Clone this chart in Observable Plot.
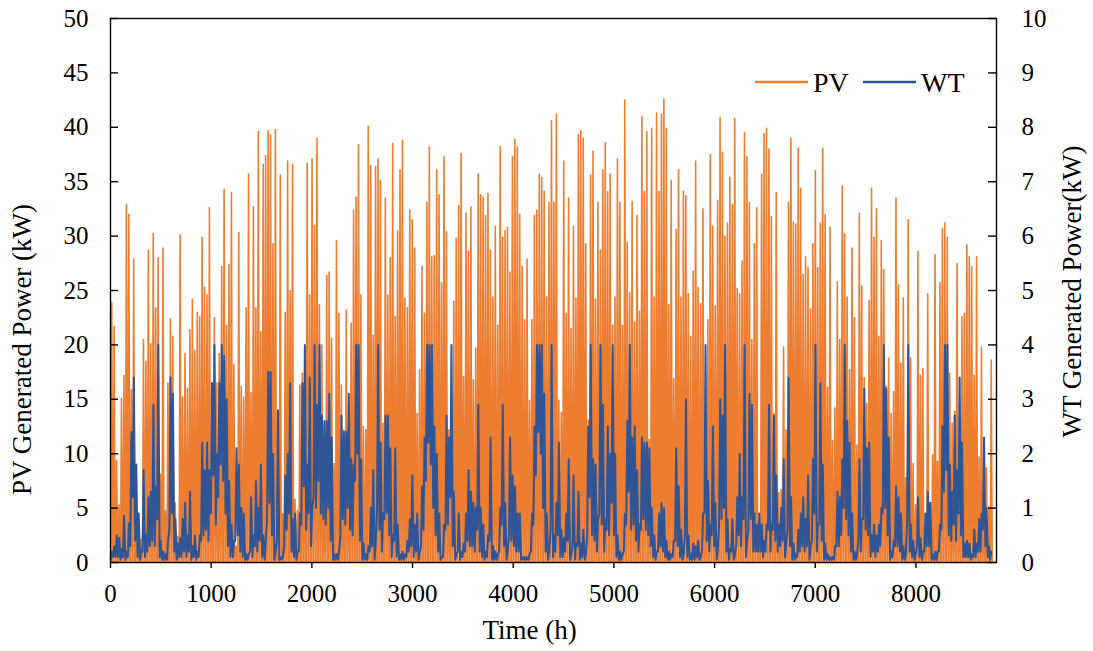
<!DOCTYPE html>
<html>
<head>
<meta charset="utf-8">
<script src="https://cdn.jsdelivr.net/npm/d3@7"></script>
<script src="https://cdn.jsdelivr.net/npm/@observablehq/plot@0.6"></script>
<style>
  html, body { margin: 0; padding: 0; background: #fff; }
  svg { display: block; }
</style>
</head>
<body>
<div id="chart"></div>
<script>
// ---- Data ----
// Daily peak of PV generated power (kW), one value per day across the year
const pvDailyPeak = [
  23.9,21.7,9.4,5.3,15.1,17.2,32.9,32.0,15.9,27.9,8.5,3.9,2.1,20.5,18.5,28.7,20.1,30.2,23.4,28.0,8.1,28.9,4.8,16.5,22.4,20.8,5.5,2.4,30.1,15.2,19.2,16.0,21.4,24.2,19.5,23.0,22.6,29.9,25.3,24.6,32.6,10.0,22.5,16.5,
  19.2,27.2,34.3,21.8,27.4,34.0,18.2,1.5,30.3,16.2,15.2,23.4,35.7,15.6,32.7,23.4,39.6,21.2,36.6,37.4,39.7,39.3,29.3,39.8,3.9,35.6,4.5,23.0,36.9,25.0,36.6,5.8,4.8,16.3,17.4,16.2,36.7,24.6,37.1,31.0,39.0,23.7,20.0,9.9,
  26.4,26.7,20.6,9.1,29.6,22.9,16.3,12.2,23.2,14.5,22.0,32.4,33.6,38.4,24.6,12.5,12.2,40.1,36.5,20.9,36.4,37.1,35.1,12.8,33.5,24.6,28.0,38.5,22.6,30.5,36.1,38.8,24.3,23.4,32.4,31.5,28.9,13.7,17.7,27.2,22.9,33.1,38.2,28.1,
  28.2,36.1,33.8,25.7,37.3,30.4,12.2,11.5,24.0,29.8,32.8,37.6,17.1,32.1,28.6,32.7,16.8,19.7,35.7,33.8,33.6,31.9,33.9,28.7,24.4,30.9,21.8,38.2,29.9,30.5,30.8,26.7,37.3,38.9,38.2,32.0,27.2,22.3,27.9,14.9,22.3,31.9,32.4,35.7,35.4,
  34.1,24.4,33.1,40.6,33.1,41.2,14.9,13.8,36.9,22.9,33.5,21.5,30.9,24.3,39.3,39.7,39.0,29.3,13.1,35.6,37.8,24.2,33.1,28.7,36.1,38.6,34.1,35.7,21.8,24.4,37.1,33.1,21.8,42.5,29.4,24.8,33.2,22.1,31.9,23.1,41.0,34.1,39.6,11.3,39.9,
  24.4,41.3,34.1,41.2,42.6,39.9,23.7,35.1,16.9,30.6,36.1,24.4,34.1,33.7,24.7,20.8,26.8,36.9,25.3,23.8,32.5,5.5,22.3,37.5,30.9,23.6,33.3,40.9,37.7,30.0,31.2,35.4,32.9,40.8,25.2,24.7,27.7,39.5,37.3,33.1,20.5,29.3,32.6,3.6,35.7,39.4,
  39.9,38.0,31.8,13.7,34.0,6.4,6.7,19.8,12.2,33.1,39.0,31.3,31.1,38.1,34.4,26.5,28.1,27.1,23.3,29.3,36.0,27.1,31.2,38.1,32.0,16.1,30.8,11.2,14.2,25.8,20.5,34.6,30.2,24.4,17.7,28.9,22.5,10.8,32.1,25.4,17.0,14.6,24.1,34.4,29.9,32.5,
  20.8,29.6,26.9,16.2,18.8,13.7,15.7,33.5,25.5,18.3,24.3,7.8,31.5,18.8,9.1,5.3,28.6,17.2,17.8,3.0,24.7,5.5,9.9,28.3,9.3,25.7,30.7,31.2,29.9,17.4,12.8,13.9,27.5,8.8,22.6,22.9,29.2,28.1,27.2,17.2,28.1,9.7,19.8,8.2,8.7,5.1,18.6
];
// Daily high of WT generated power (kW)
const wtDailyHigh = [
  0.2,0.3,0.5,0.45,0.25,0.86,0.2,0.72,2.4,3.4,1.8,0.9,0.23,1.7,0.5,1.2,1.3,2.9,1.4,4.0,0.4,0.2,0.15,0.4,3.4,3.1,0.8,0.35,0.45,0.8,1.1,0.5,1.3,0.3,0.5,0.2,0.5,2.2,1.7,2.2,1.7,3.3,4.0,2.0,
  3.3,4.0,3.8,3.0,1.5,0.7,0.4,2.1,1.8,1.0,0.9,0.15,0.15,1.2,0.5,1.5,1.0,1.8,0.5,0.4,3.5,3.5,2.0,0.2,2.8,0.1,0.1,1.6,2.0,3.3,0.8,0.9,0.2,0.9,3.3,4.0,1.8,3.4,1.0,4.0,2.9,4.0,2.7,2.6,
  2.6,3.1,2.3,0.15,0.15,0.2,2.7,2.4,2.4,3.1,1.9,1.8,4.0,4.0,1.9,0.35,0.15,0.3,1.0,1.7,0.35,4.0,2.2,0.9,2.7,2.7,2.1,0.5,2.1,0.7,0.15,0.2,0.15,0.4,0.8,1.6,0.7,0.9,0.2,1.4,2.3,4.0,4.0,4.0,
  2.5,2.0,0.9,0.1,0.7,2.7,2.3,4.0,1.3,0.15,0.9,0.2,0.35,0.9,1.7,1.3,1.1,1.0,2.9,1.0,0.7,0.2,0.5,2.3,0.3,0.2,0.15,1.0,2.9,1.1,0.2,2.3,1.6,1.4,0.9,0.9,0.1,0.1,0.1,0.15,0.9,2.5,4.0,4.0,4.0,
  3.1,0.9,0.2,4.0,0.5,1.1,2.2,0.6,0.45,0.9,1.9,0.15,1.6,0.35,1.3,0.35,0.6,0.15,2.5,4.0,1.9,1.8,0.8,4.0,2.9,0.8,2.5,2.0,4.0,2.0,0.5,0.2,0.15,0.9,2.6,4.0,2.3,2.5,1.7,0.7,2.3,2.2,2.2,2.1,1.0,
  0.5,0.2,0.9,1.1,1.0,0.4,0.2,0.15,0.4,2.1,1.4,0.6,0.15,3.0,0.5,0.15,0.35,0.3,0.4,0.1,0.9,4.0,1.5,0.7,2.5,1.1,0.2,3.0,2.7,4.0,0.8,0.25,0.8,0.15,1.2,2.0,1.2,4.0,0.4,3.1,2.9,0.9,0.7,0.9,0.7,0.4,
  0.7,2.9,0.7,2.7,1.6,0.7,1.0,1.9,0.35,3.4,1.2,0.35,0.15,0.6,0.9,1.2,0.8,1.6,0.3,1.9,4.0,0.7,3.3,1.8,0.35,0.15,0.1,0.1,0.3,1.3,1.2,1.9,4.0,2.6,2.2,0.9,0.2,0.15,1.9,0.8,3.2,2.1,2.2,0.5,0.7,0.5,
  0.7,1.0,4.0,3.2,2.3,0.2,0.4,1.4,1.2,0.9,0.3,0.15,4.0,0.7,0.4,0.15,1.2,0.45,0.2,0.9,1.3,1.1,0.15,0.2,0.2,0.7,2.5,4.0,4.0,1.8,1.3,2.7,1.7,3.4,2.2,0.35,0.4,0.35,0.15,0.6,0.35,0.8,0.9,2.3,1.0,0.3,0.2
];
// Daily low of WT generated power (kW)
const wtDailyLow = [
  0.05,0.1,0.1,0.1,0.05,0.1,0.05,0.1,0.3,1.2,0.4,0.1,0.05,0.2,0.1,0.2,0.3,0.4,0.3,0.8,0.1,0.05,0.05,0.05,0.6,0.9,0.2,0.05,0.1,0.1,0.2,0.1,0.2,0.05,0.1,0.05,0.1,0.4,0.5,0.6,0.4,0.9,1.6,0.7,
  1.2,1.8,1.5,0.9,0.3,0.1,0.1,0.4,0.5,0.2,0.1,0.05,0.05,0.2,0.1,0.3,0.2,0.4,0.1,0.05,0.8,1.1,0.5,0.05,0.4,0.05,0.05,0.3,0.6,0.9,0.2,0.1,0.05,0.2,0.7,1.4,0.6,0.9,0.3,1.2,1.0,1.5,0.9,0.8,
  0.7,1.0,0.4,0.05,0.05,0.05,0.5,0.8,0.7,1.0,0.6,0.5,1.5,2.0,0.4,0.05,0.05,0.05,0.2,0.3,0.05,1.0,0.6,0.2,0.8,0.9,0.5,0.1,0.4,0.1,0.05,0.05,0.05,0.1,0.2,0.3,0.1,0.2,0.05,0.3,0.6,1.5,2.2,1.8,
  1.0,0.5,0.2,0.05,0.1,0.6,0.7,1.2,0.3,0.05,0.2,0.05,0.1,0.2,0.4,0.3,0.3,0.2,0.6,0.2,0.1,0.05,0.1,0.4,0.05,0.05,0.05,0.2,0.7,0.3,0.05,0.5,0.4,0.3,0.2,0.2,0.05,0.05,0.05,0.05,0.2,0.7,1.6,2.4,2.0,
  1.0,0.2,0.05,0.6,0.1,0.2,0.5,0.1,0.1,0.2,0.4,0.05,0.3,0.05,0.3,0.05,0.1,0.05,0.5,1.2,0.5,0.4,0.2,0.9,0.7,0.2,0.6,0.5,1.1,0.5,0.1,0.05,0.05,0.2,0.7,1.3,0.6,0.7,0.4,0.2,0.6,0.8,0.6,0.5,0.3,
  0.1,0.05,0.2,0.3,0.2,0.1,0.05,0.05,0.1,0.4,0.3,0.1,0.05,0.5,0.1,0.05,0.05,0.05,0.1,0.05,0.2,0.9,0.4,0.2,0.5,0.3,0.05,0.7,0.8,1.0,0.2,0.05,0.2,0.05,0.3,0.5,0.3,0.8,0.1,0.6,0.8,0.2,0.2,0.2,0.2,0.1,
  0.2,0.6,0.2,0.6,0.4,0.2,0.3,0.4,0.1,0.6,0.3,0.05,0.05,0.1,0.2,0.3,0.2,0.3,0.05,0.4,0.9,0.2,0.7,0.4,0.05,0.05,0.05,0.05,0.05,0.3,0.3,0.5,1.0,0.8,0.5,0.2,0.05,0.05,0.4,0.2,0.8,0.6,0.5,0.1,0.2,0.1,
  0.2,0.3,0.9,1.0,0.5,0.05,0.1,0.3,0.3,0.2,0.05,0.05,0.8,0.2,0.1,0.05,0.3,0.1,0.05,0.2,0.3,0.3,0.05,0.05,0.05,0.2,0.6,1.3,1.7,0.5,0.4,0.7,0.4,0.9,0.5,0.1,0.1,0.1,0.05,0.1,0.1,0.2,0.2,0.6,0.3,0.1,0.05
];
const seriesNames = ["PV", "WT"];
const seriesColors = ["#ED7D31", "#2F5597"];
const pvTicks = [0, 5, 10, 15, 20, 25, 30, 35, 40, 45, 50];
const wtTicks = [0, 1, 2, 3, 4, 5, 6, 7, 8, 9, 10];
const xTicks = [0, 1000, 2000, 3000, 4000, 5000, 6000, 7000, 8000];
const xDomain = [0, 8800];
const hoursInYear = 8760;
const xLabel = "Time (h)";
const yLabelLeft = "PV Generated Power (kW)";
const yLabelRight = "WT Generated Power(kW)";

// ---- Build tables ----
const step = hoursInYear / pvDailyPeak.length;
const wtScale = pvTicks[pvTicks.length - 1] / wtTicks[wtTicks.length - 1];
const pvData = pvDailyPeak.flatMap((v, i) => [
  {h: i * step + step * 0.12, v: 0},
  {h: i * step + step * 0.5, v},
  {h: i * step + step * 0.88, v: 0}
]);
const wtData = wtDailyHigh.flatMap((v, i) => [
  {h: i * step + step * 0.1, v: wtDailyLow[i] * wtScale},
  {h: i * step + step * 0.55, v: v * wtScale}
]);

const W = 1093, H = 651;
const mL = 110, mR = 97, mT = 18, mB = 89;
const frameW = W - mL - mR;
const serif = "'Liberation Serif', 'Times New Roman', serif";

const chart = Plot.plot({
  width: W, height: H,
  marginLeft: mL, marginRight: mR, marginTop: mT, marginBottom: mB,
  style: {fontFamily: serif, fontSize: "25px", color: "black", background: "white", overflow: "visible"},
  x: {domain: xDomain},
  y: {domain: [pvTicks[0], pvTicks[pvTicks.length - 1]]},
  marks: [
    Plot.line(pvData, {x: "h", y: "v", stroke: seriesColors[0], strokeWidth: 1.6}),
    Plot.line(wtData, {x: "h", y: "v", stroke: seriesColors[1], strokeWidth: 2}),
    Plot.frame({stroke: "black", strokeWidth: 1.4}),
    Plot.gridY(pvTicks, {stroke: "black", strokeOpacity: 1, strokeWidth: 1.4, insetRight: frameW - 8}),
    Plot.gridY(pvTicks, {stroke: "black", strokeOpacity: 1, strokeWidth: 1.4, insetLeft: frameW - 8}),
    Plot.axisY(pvTicks, {anchor: "left", tickSize: 0, tickPadding: 22, label: null, fontSize: 25}),
    Plot.axisY(pvTicks, {anchor: "right", tickSize: 0, tickPadding: 25, label: null, fontSize: 25,
      tickFormat: d => String(wtTicks[pvTicks.indexOf(d)])}),
    Plot.axisX(xTicks, {anchor: "bottom", tickSize: 6, tickPadding: 16, label: null, fontSize: 25,
      tickFormat: d => String(d), strokeWidth: 1.4}),
    Plot.text([xLabel], {text: d => d, frameAnchor: "bottom", textAnchor: "middle", dx: -24, dy: 76, fontSize: 27}),
    Plot.text([yLabelLeft], {text: d => d, frameAnchor: "left", textAnchor: "middle", rotate: -90, dx: -88, dy: 59, fontSize: 27}),
    Plot.text([yLabelRight], {text: d => d, frameAnchor: "right", textAnchor: "middle", rotate: -90, dx: 76, dy: 1, fontSize: 27})
  ]
});

// ---- Legend inside the plot (top right) ----
const svg = d3.select(chart);
const legend = svg.append("g")
  .attr("font-family", serif).attr("font-size", 28).attr("text-anchor", "start");
const legendX = [755, 863];
seriesNames.forEach((name, i) => {
  const x0 = legendX[i];
  legend.append("line").attr("x1", x0).attr("x2", x0 + 53).attr("y1", 82).attr("y2", 82)
    .attr("stroke", seriesColors[i]).attr("stroke-width", 2.5);
  legend.append("text").attr("x", x0 + 58).attr("y", 82).attr("dy", "0.35em")
    .attr("text-anchor", "start").attr("fill", "black").text(name);
});

document.getElementById("chart").appendChild(chart);
</script>
</body>
</html>
